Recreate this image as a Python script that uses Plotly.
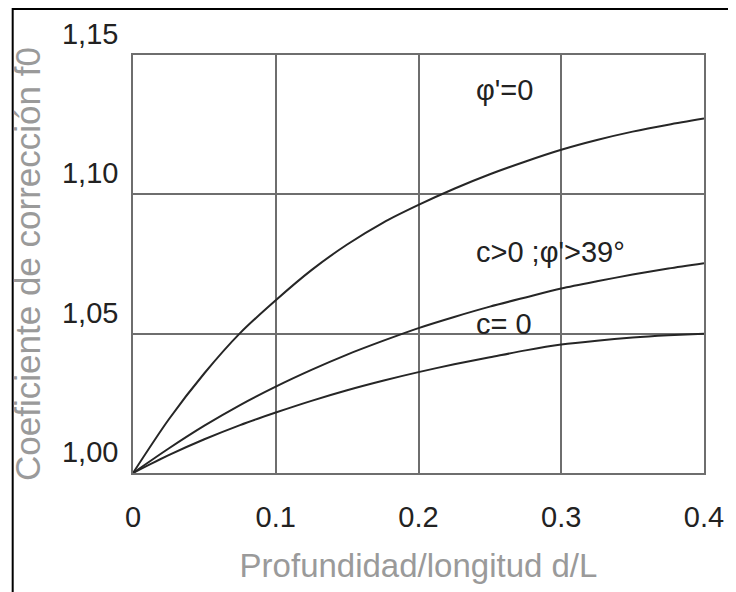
import plotly.graph_objects as go

# Data
x_vals = [0, 0.025, 0.05, 0.075, 0.1, 0.125, 0.15, 0.175, 0.2, 0.225, 0.25, 0.275, 0.3, 0.325, 0.35, 0.375, 0.4]
phi_zero = [1.000, 1.0192, 1.0358, 1.0502, 1.0620, 1.0728, 1.0820, 1.0898, 1.0962, 1.1020, 1.1072, 1.1118, 1.1160, 1.1195, 1.1225, 1.1250, 1.1272]
c_pos_phi39 = [1.000, 1.0088, 1.0170, 1.0244, 1.0310, 1.0370, 1.0425, 1.0474, 1.0520, 1.0560, 1.0597, 1.0630, 1.0662, 1.0688, 1.0712, 1.0734, 1.0753]
c_zero = [1.000, 1.0064, 1.0121, 1.0172, 1.0217, 1.0259, 1.0297, 1.0331, 1.0362, 1.0390, 1.0415, 1.0440, 1.0461, 1.0475, 1.0486, 1.0494, 1.0500]

series_names = ["φ'=0", "c>0 ;φ'>39°", "c= 0"]
label_x = [0.2386, 0.2386, 0.2386]
label_y = [1.1373, 1.0792, 1.0535]

x_ticks = [0, 0.1, 0.2, 0.3, 0.4]
x_ticktext = ["0", "0.1", "0.2", "0.3", "0.4"]
y_ticks = [1.00, 1.05, 1.10, 1.15]
y_ticktext = ["1,00", "1,05", "1,10", "1,15"]

FONT = "Liberation Sans, Arial, sans-serif"
CURVE = "#262626"
GRID = "#6e6e6e"

fig = go.Figure()
for name, ys in zip(series_names, [phi_zero, c_pos_phi39, c_zero]):
    fig.add_trace(go.Scatter(x=x_vals, y=ys, mode="lines", name=name,
                             line=dict(color=CURVE, width=2, shape="spline", smoothing=0.8),
                             showlegend=False, hoverinfo="skip"))

for name, lx, ly in zip(series_names, label_x, label_y):
    fig.add_annotation(x=lx, y=ly, text=name, showarrow=False, xanchor="left", yanchor="middle",
                       font=dict(family=FONT, size=29, color="#222222"))

# outer frame (only top and left edges visible in the picture)
fig.add_shape(type="rect", xref="paper", yref="paper",
              x0=-0.2107, x1=1.3, y0=-0.4, y1=1.110,
              line=dict(color="#000000", width=2), layer="below")

fig.update_layout(
    width=728, height=584,
    margin=dict(l=125, r=32, t=47, b=119, autoexpand=False),
    paper_bgcolor="white", plot_bgcolor="white",
    font=dict(family=FONT, color="#222222"),
    xaxis=dict(range=[0, 0.4], tickvals=x_ticks, ticktext=x_ticktext,
               showgrid=True, gridcolor=GRID, gridwidth=1.5,
               showline=True, linecolor=GRID, linewidth=1.5, mirror=True,
               zeroline=False, ticks="", ticklabelstandoff=17,
               tickfont=dict(family=FONT, size=29, color="#222222"),
               title=dict(text="Profundidad/longitud d/L", standoff=22,
                          font=dict(family=FONT, size=33, color="#9a9a9a")),
               automargin=False),
    yaxis=dict(range=[1.0, 1.15], tickvals=y_ticks, ticktext=y_ticktext,
               showgrid=True, gridcolor=GRID, gridwidth=1.5,
               showline=True, linecolor=GRID, linewidth=1.5, mirror=True,
               zeroline=False, ticks="", ticklabelstandoff=7, ticklabelshift=-21,
               tickfont=dict(family=FONT, size=29, color="#222222"),
               title=dict(text="Coeficiente de corrección f0", standoff=16,
                          font=dict(family=FONT, size=35, color="#9a9a9a")),
               automargin=False),
)

fig.write_html("out.html")
